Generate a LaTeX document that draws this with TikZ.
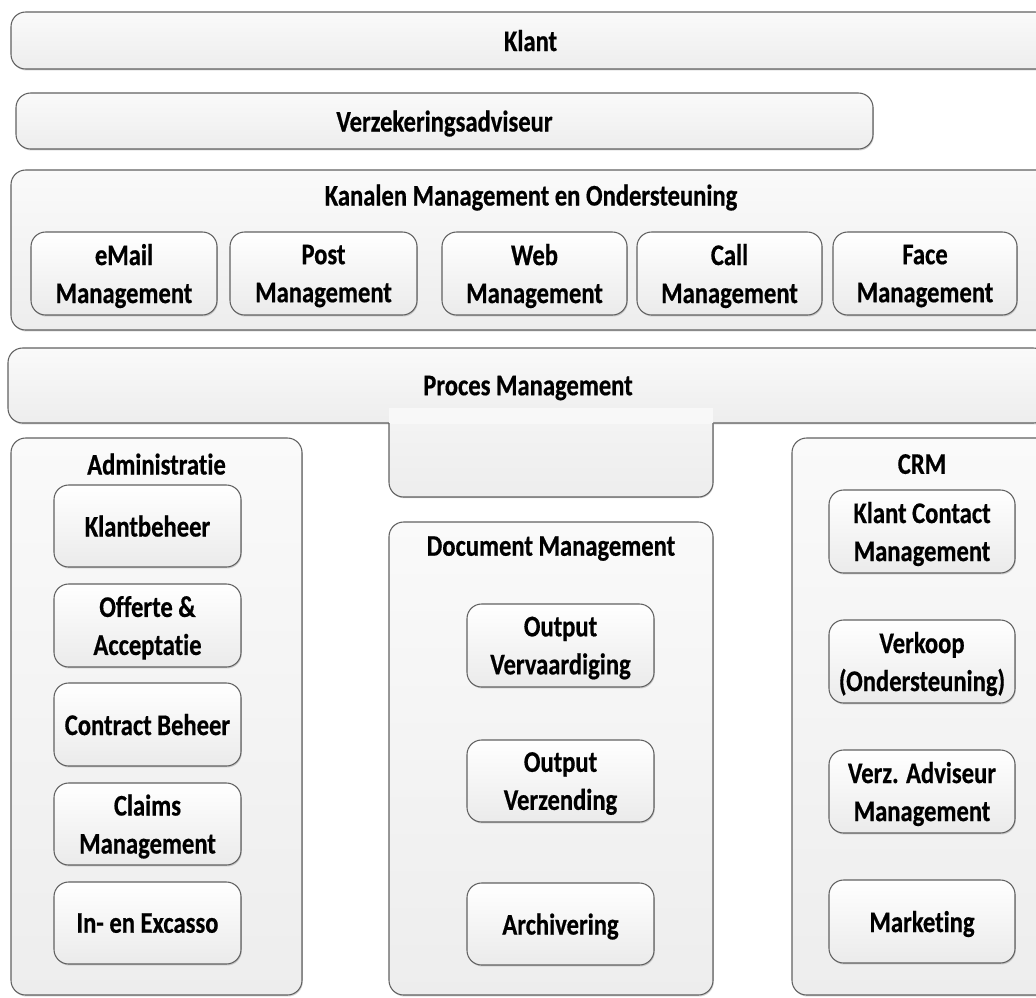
\documentclass[tikz,border=0pt]{standalone}
\usepackage{fontspec}
\newfontfamily\dfont{Carlito}[FakeStretch=0.82, RawFeature=-liga, BoldFeatures={FakeBold=0.5}]
\usetikzlibrary{shadows}
\tikzset{
  area/.style n args={4}{at={({(#1+#3)/2},{(#2+#4)/2})},
    minimum width={(#3-#1)*0.75pt}, minimum height={(#4-#2)*0.75pt}},
  frame/.style={draw=black!62, line width=0.8pt, rounded corners=11pt,
    top color=white, bottom color=black!8, inner sep=0pt,
    drop shadow={shadow xshift=0.6pt, shadow yshift=-1.1pt, opacity=0.25, fill=black!70}},
  container/.style={frame, top color=black!2, bottom color=black!7},
  txt/.style={font=\dfont\bfseries\fontsize{22.5}{28.5}\selectfont, align=center, text depth=0pt},
  sub/.style={frame, txt},
  cont/.style={container, txt},
  title/.style={txt, inner sep=0pt},
}
\begin{document}
\begin{tikzpicture}[x=0.75pt,y=-0.75pt]
\useasboundingbox (0,0) rectangle (1036,997);
\fill[white] (0,0) rectangle (1036,997);
\clip (0,0) rectangle (1036,997);

% top layers
\node[cont, area={11}{12}{1050}{69}] (klant) {Klant};
\node[cont, area={16}{93}{873}{149}] (adviseur) {Verzekeringsadviseur};

% channels
\node[container, area={11}{170}{1051}{330}] (kanalen) {};
\node[title] (kanalenT) at (531,195) {Kanalen Management en Ondersteuning};
\node[sub, area={31}{232}{217}{315}] (email) {eMail\\Management};
\node[sub, area={230}{232}{417}{315}] (post) {Post\\Management};
\node[sub, area={442}{232}{627}{315}] (web) {Web\\Management};
\node[sub, area={637}{232}{822}{315}] (call) {Call\\Management};
\node[sub, area={833}{232}{1017}{315}] (face) {Face\\Management};

% process
\node[cont, area={8}{348}{1048}{423}] (proces) {Proces Management};
\begin{scope}
  \fill[black!25, opacity=0.8] [rounded corners=11pt] (389.6,423) -- (389.6,498.2) -- (713.6,498.2) -- (713.6,423);
  \begin{scope}
    \clip (380,408) rectangle (730,510);
    \shade[top color=black!3, bottom color=black!7, rounded corners=11pt] (389,370) rectangle (713,497);
  \end{scope}
  \fill[white, opacity=0.45] (389,408) rectangle (713,424);
  \draw[draw=black!62, line width=0.8pt, rounded corners=11pt] (389,423) -- (389,497) -- (713,497) -- (713,423);
\end{scope}

% administratie
\node[container, area={11}{438}{302}{995}] (admin) {};
\node[title] (adminT) at (156.5,464) {Administratie};
\node[sub, area={54}{485}{241}{567}] (klantbeheer) {Klantbeheer};
\node[sub, area={54}{584}{241}{667}] (offerte) {Offerte \&\\Acceptatie};
\node[sub, area={54}{683}{241}{766}] (contract) {Contract Beheer};
\node[sub, area={54}{783}{241}{865}] (claims) {Claims\\Management};
\node[sub, area={54}{882}{241}{964}] (incasso) {In- en Excasso};

% document management
\node[container, area={389}{522}{713}{995}] (docman) {};
\node[title] (docmanT) at (551,546) {Document Management};
\node[sub, area={467}{604}{654}{687}] (outverv) {Output\\Vervaardiging};
\node[sub, area={467}{740}{654}{822}] (outverz) {Output\\Verzending};
\node[sub, area={467}{883}{654}{965}] (archief) {Archivering};

% CRM
\node[container, area={792}{438}{1053}{995}] (crm) {};
\node[title] (crmT) at (922,464) {CRM};
\node[sub, area={829}{490}{1015}{573}] (kcm) {Klant Contact\\Management};
\node[sub, area={829}{620}{1015}{703}] (verkoop) {Verkoop\\(Ondersteuning)};
\node[sub, area={829}{750}{1015}{833}] (vam) {Verz. Adviseur\\Management};
\node[sub, area={829}{880}{1015}{963}] (marketing) {Marketing};
\end{tikzpicture}
\end{document}
